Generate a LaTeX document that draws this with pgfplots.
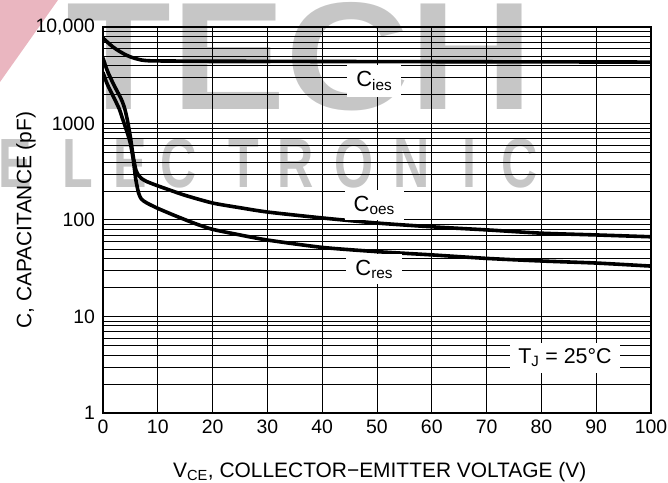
\documentclass[border=0pt]{standalone}
\usepackage{fontspec}
\setmainfont{Liberation Sans}
\usepackage{pgfplots}
\pgfplotsset{compat=1.18}
\definecolor{wmgray}{RGB}{198,198,198}
\definecolor{wmpink}{RGB}{234,182,192}

\begin{document}
\begin{tikzpicture}
% watermark behind the chart
\begin{scope}
  \clip (-103bp,-70bp) rectangle (565bp,413bp);
  \fill[wmpink] (-103bp,413bp) -- (-45bp,413bp) -- (-103bp,331bp) -- cycle;
  \node[wmgray, anchor=base, inner sep=0pt, xscale=1.12,
        font=\bfseries\fontsize{154}{154}\selectfont] at (197bp,303bp) {TECH};
  \foreach \l/\x in {E/15,L/78,E/130,C/179,T/244,R/296,O/354,N/412,I/469,C/520}
    \node[wmgray, anchor=base, inner sep=0pt, xscale=0.72,
          font=\bfseries\fontsize{70}{70}\selectfont] at (\x bp-103bp,225bp) {\l};
\end{scope}

\begin{axis}[
    scale only axis, width=548bp, height=386bp,
    xmin=0, xmax=100, ymin=1, ymax=10000, ymode=log,
    xtick={0,10,20,30,40,50,60,70,80,90,100},
    xticklabels={0,10,20,30,40,50,60,70,80,90,100},
    ytick={1,10,100,1000,10000},
    yticklabels={1,10,100,1000,{10,000}},
    minor ytick={2,3,4,5,6,7,8,9,20,30,40,50,60,70,80,90,200,300,400,500,600,700,800,900,2000,3000,4000,5000,6000,7000,8000,9000},
    grid=both,
    major grid style={black, line width=1bp},
    minor grid style={black, line width=0.75bp},
    major tick length=0pt, minor tick length=0pt,
    axis line style={line width=1.7bp},
    tick label style={font=\fontsize{19.5}{20}\selectfont},
    xticklabel style={inner xsep=0pt, yshift=-3.5bp},
    yticklabel style={xshift=-4.5bp},
    xlabel={V\textsubscript{CE}, COLLECTOR−EMITTER VOLTAGE (V)},
    ylabel={C, CAPACITANCE (pF)},
    label style={font=\fontsize{21}{24}\selectfont},
    xlabel style={at={(axis description cs:0.505,-0.1658)}, anchor=base},
    ylabel style={at={(axis description cs:-0.1405,0.5)}, anchor=center},
]
% C_ies
\addplot[black, line width=3.6bp, smooth, tension=0.4] coordinates {
  (0,7700) (1,6800) (2,6100) (3,5600) (4,5200) (5,4900) (6,4700) (7,4550)
  (8,4480) (10,4450) (20,4420) (50,4380) (100,4330)
};
% C_oes
\addplot[black, line width=3.6bp, smooth, tension=0.4] coordinates {
  (0,4800) (0.5,3900) (1,3300) (2,2500) (3,1950) (3.5,1700) (4,1400)
  (4.5,1050) (5,720) (5.5,460) (6,330) (6.5,290) (7,270) (8,250) (10,226)
  (12,206) (15,180) (20,150) (25,134) (30,121) (40,105) (50,93) (60,85)
  (70,79) (80,73) (90,70) (100,67)
};
% C_res
\addplot[black, line width=3.6bp, smooth, tension=0.4] coordinates {
  (0,3400) (0.5,2800) (1,2400) (2,1850) (3,1400) (3.5,1150) (4,950)
  (4.5,780) (5,620) (5.5,430) (6,260) (6.5,190) (7,165) (8,150) (10,132)
  (12,118) (14,106) (17,91) (20,80) (25,70) (30,62) (40,52) (50,47)
  (60,43.5) (70,40) (80,37.6) (90,35.8) (100,33.3)
};
\node[fill=white, inner xsep=9bp, inner ysep=6bp, font=\fontsize{22}{24}\selectfont]
  at (axis cs:49.5,2750) {C\textsubscript{ies}};
\node[fill=white, inner xsep=9bp, inner ysep=6bp, font=\fontsize{22}{24}\selectfont]
  at (axis cs:49.5,143) {C\textsubscript{oes}};
\node[fill=white, inner xsep=9bp, inner ysep=6bp, font=\fontsize{22}{24}\selectfont]
  at (axis cs:49.5,31) {C\textsubscript{res}};
\node[fill=white, inner xsep=8bp, inner ysep=6bp, font=\fontsize{21.5}{24}\selectfont]
  at (axis cs:84.3,3.72) {T\textsubscript{J} = 25°C};
\end{axis}
\pgfresetboundingbox
\useasboundingbox (-103bp,-70bp) rectangle (565bp,413bp);
\end{tikzpicture}
\end{document}
